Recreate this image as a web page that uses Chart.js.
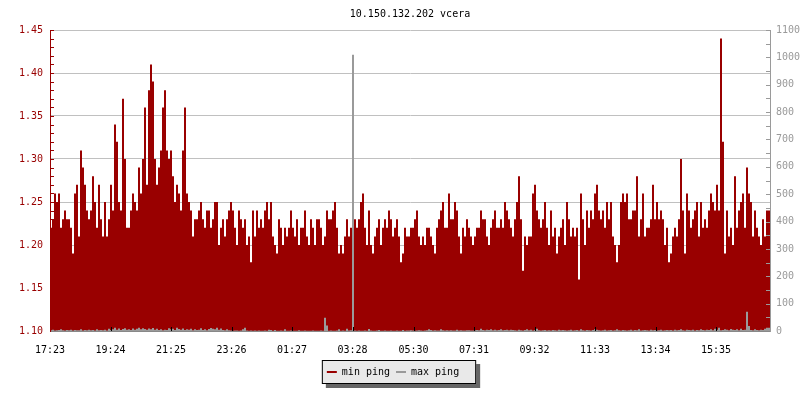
<!DOCTYPE html>
<html>
<head>
<meta charset="utf-8">
<title>10.150.132.202 vcera</title>
<script src="https://cdn.jsdelivr.net/npm/chart.js@4/dist/chart.umd.min.js"></script>
<style>
    html, body { margin: 0; padding: 0; background: #fff; }
</style>
</head>
<body>
<canvas id="pingChart" width="800" height="400"></canvas>
<script>
// time axis labels (every ~2h, starting 17:23)
const tickLabels = ['17:23', '19:24', '21:25', '23:26', '01:27', '03:28', '05:30', '07:31', '09:32', '11:33', '13:34', '15:35'];

// one sample every 4 minutes, 24h -> 360 samples
const stepMinutes = 4;

// min ping (left axis)
const minPing = [
    1.24,1.22,1.23,1.26,1.25,1.26,1.22,1.23,1.24,1.23,
    1.23,1.22,1.19,1.26,1.27,1.21,1.31,1.29,1.27,1.24,
    1.23,1.24,1.28,1.25,1.22,1.27,1.23,1.21,1.25,1.21,
    1.23,1.27,1.24,1.34,1.32,1.25,1.24,1.37,1.30,1.22,
    1.22,1.24,1.26,1.25,1.24,1.29,1.26,1.30,1.36,1.27,
    1.38,1.41,1.39,1.30,1.27,1.29,1.31,1.36,1.38,1.31,
    1.30,1.31,1.28,1.25,1.27,1.26,1.24,1.31,1.36,1.26,
    1.25,1.24,1.21,1.23,1.23,1.24,1.25,1.23,1.22,1.24,
    1.24,1.22,1.23,1.25,1.25,1.20,1.22,1.23,1.21,1.23,
    1.24,1.25,1.24,1.22,1.20,1.24,1.23,1.22,1.23,1.20,
    1.21,1.18,1.24,1.21,1.24,1.22,1.23,1.22,1.24,1.25,
    1.23,1.25,1.21,1.20,1.19,1.23,1.22,1.20,1.22,1.21,
    1.22,1.24,1.22,1.21,1.23,1.20,1.22,1.22,1.24,1.21,
    1.20,1.23,1.22,1.20,1.23,1.23,1.22,1.20,1.21,1.24,
    1.23,1.23,1.24,1.25,1.22,1.19,1.20,1.19,1.21,1.23,
    1.21,1.22,1.26,1.23,1.22,1.23,1.25,1.26,1.22,1.20,
    1.24,1.20,1.19,1.21,1.22,1.23,1.20,1.22,1.23,1.22,
    1.24,1.23,1.21,1.22,1.23,1.21,1.18,1.19,1.22,1.21,
    1.21,1.22,1.22,1.23,1.24,1.21,1.20,1.21,1.20,1.22,
    1.22,1.21,1.20,1.19,1.22,1.23,1.24,1.25,1.22,1.22,
    1.26,1.23,1.23,1.25,1.24,1.21,1.19,1.22,1.21,1.23,
    1.22,1.21,1.20,1.21,1.22,1.22,1.24,1.23,1.23,1.21,
    1.20,1.22,1.23,1.24,1.22,1.22,1.23,1.22,1.25,1.24,
    1.23,1.22,1.21,1.23,1.25,1.28,1.23,1.17,1.21,1.20,
    1.21,1.21,1.26,1.27,1.24,1.23,1.22,1.23,1.25,1.22,
    1.20,1.24,1.21,1.22,1.19,1.21,1.22,1.23,1.20,1.25,
    1.23,1.21,1.22,1.21,1.22,1.16,1.26,1.23,1.20,1.24,
    1.22,1.24,1.23,1.26,1.27,1.24,1.23,1.24,1.22,1.25,
    1.23,1.25,1.21,1.20,1.18,1.20,1.25,1.26,1.25,1.26,
    1.23,1.23,1.24,1.24,1.28,1.21,1.23,1.26,1.21,1.22,
    1.22,1.23,1.27,1.23,1.25,1.23,1.24,1.23,1.20,1.22,
    1.18,1.19,1.21,1.22,1.21,1.23,1.30,1.24,1.19,1.26,
    1.24,1.22,1.23,1.24,1.25,1.21,1.25,1.22,1.23,1.22,
    1.24,1.26,1.25,1.24,1.27,1.24,1.44,1.32,1.19,1.24,
    1.21,1.22,1.20,1.28,1.22,1.24,1.25,1.26,1.22,1.29,
    1.26,1.25,1.21,1.24,1.22,1.21,1.20,1.23,1.21,1.24
];

// max ping (right axis)
const maxPing = [
    4,3,5,2,3,4,6,3,2,4,
    3,5,2,4,3,3,6,2,4,3,
    5,3,4,2,6,3,4,3,5,2,
    8,4,6,12,5,9,4,7,10,5,
    6,4,9,5,8,12,6,10,7,5,
    9,6,11,5,8,4,6,3,5,4,
    10,6,8,4,12,7,5,9,4,6,
    5,8,3,6,4,5,10,4,6,3,
    7,11,8,6,12,5,9,4,3,6,
    3,2,1,2,2,1,2,6,12,2,
    1,2,1,2,1,2,1,1,2,1,
    5,4,1,4,1,1,2,1,6,1,
    1,2,1,1,1,3,1,1,2,1,
    1,1,2,1,1,1,2,1,48,20,
    1,2,1,1,2,6,1,2,1,8,
    2,3,1010,2,1,2,1,1,2,1,
    7,2,1,1,2,4,1,1,2,1,
    1,2,1,1,2,1,1,4,1,2,
    2,3,2,1,2,3,2,1,2,3,
    6,4,2,3,2,2,6,3,2,3,
    2,3,2,2,5,2,3,2,2,3,
    3,2,2,3,4,3,8,4,3,5,
    4,6,3,5,3,4,6,3,4,5,
    3,5,4,3,2,5,3,2,4,6,
    3,5,2,4,8,3,2,3,4,2,
    3,2,4,3,2,5,3,4,3,2,
    3,5,2,3,4,2,6,3,2,4,
    3,2,4,6,5,3,2,3,5,2,
    3,4,2,3,6,3,2,4,3,2,
    3,5,2,4,3,6,2,3,4,3,
    2,5,3,4,2,3,5,2,3,4,
    3,4,2,5,3,4,6,3,2,5,
    4,3,5,2,4,3,6,4,3,5,
    4,6,3,8,5,12,3,4,6,5,
    3,7,5,4,6,3,8,4,5,70,
    18,4,3,6,4,3,5,4,8,12
];

const RED = '#990000';
const GREY = '#9a9a9a';

const startMinute = 17 * 60 + 23;
const tickMinutes = tickLabels.map(t => {
    const [h, m] = t.split(':').map(Number);
    return (h * 60 + m - startMinute + 1440) % 1440;
});

// x in minutes since start; last value repeated at the end so the final step gets its width
function toPoints(values) {
    const pts = values.map((v, i) => ({x: i * stepMinutes, y: v}));
    pts.push({x: values.length * stepMinutes, y: values[values.length - 1]});
    return pts;
}

Chart.defaults.font.family = "'DejaVu Sans Mono', monospace";
Chart.defaults.font.size = 10;
Chart.defaults.color = '#000';

// inward tick marks like the original graph + legend frame with shadow
const rrdLook = {
    id: 'rrdLook',
    afterLayout(chart) {
        chart.titleBlock.left += 10;
        chart.titleBlock.right += 10;
        chart.legend.left -= 7;
        chart.legend.right -= 7;
    },
    beforeDraw(chart) {
        const ctx = chart.ctx;
        const hb = chart.legend.legendHitBoxes;
        if (!hb || !hb.length) return;
        const left = Math.min(...hb.map(h => h.left)) - 5;
        const right = Math.max(...hb.map(h => h.left + h.width)) + 17;
        const top = hb[0].top - 7;
        const bottom = hb[0].top + hb[0].height + 7;
        ctx.save();
        ctx.fillStyle = '#666';
        ctx.fillRect(left + 4, top + 4, right - left, bottom - top);
        ctx.fillStyle = '#e9e9e9';
        ctx.fillRect(left, top, right - left, bottom - top);
        ctx.strokeStyle = '#000';
        ctx.lineWidth = 1;
        ctx.strokeRect(left + 0.5, top + 0.5, right - left - 1, bottom - top - 1);
        ctx.restore();
    },
    afterDatasetsDraw(chart) {
        const {ctx, chartArea: a, scales: {x, y, y1}} = chart;
        ctx.save();
        ctx.lineWidth = 1;

        ctx.strokeStyle = RED;
        ctx.beginPath();
        y.ticks.forEach(t => {
            const py = Math.round(y.getPixelForValue(t.value)) + 0.5;
            ctx.moveTo(a.left, py);
            ctx.lineTo(a.left + 4, py);
        });
        ctx.stroke();

        ctx.strokeStyle = GREY;
        ctx.beginPath();
        y1.ticks.forEach(t => {
            const py = Math.round(y1.getPixelForValue(t.value)) + 0.5;
            ctx.moveTo(a.right, py);
            ctx.lineTo(a.right - 4, py);
        });
        ctx.stroke();

        ctx.strokeStyle = '#000';
        ctx.beginPath();
        x.ticks.forEach(t => {
            const px = Math.round(x.getPixelForValue(t.value)) + 0.5;
            ctx.moveTo(px, a.bottom);
            ctx.lineTo(px, a.bottom - 4);
        });
        ctx.stroke();
        ctx.restore();
    }
};

const CHART = document.getElementById('pingChart');

let pingChart = new Chart(CHART, {
    type: 'line',
    data: {
        datasets: [
            {
                label: 'min ping',
                data: toPoints(minPing),
                yAxisID: 'y',
                order: 1,
                stepped: 'after',
                fill: 'start',
                backgroundColor: RED,
                borderColor: RED,
                borderWidth: 0,
                pointRadius: 0,
            },
            {
                label: 'max ping',
                data: toPoints(maxPing),
                yAxisID: 'y1',
                order: 0,
                stepped: 'after',
                fill: 'start',
                backgroundColor: GREY,
                borderColor: GREY,
                borderWidth: 0,
                pointRadius: 0,
            }
        ]
    },
    options: {
        responsive: false,
        animation: false,
        devicePixelRatio: 1,
        events: [],
        layout: { padding: { top: 0, right: 0, bottom: 13, left: 0 } },
        scales: {
            x: {
                type: 'linear',
                min: 0,
                max: 1440,
                afterBuildTicks: s => { s.ticks = tickMinutes.map(v => ({value: v})); },
                afterFit: s => { s.height = 30; },
                ticks: {
                    autoSkip: false,
                    maxRotation: 0,
                    padding: 5,
                    color: '#000',
                    callback: v => tickLabels[tickMinutes.indexOf(v)]
                },
                grid: { display: false },
                border: { color: '#888', z: 1 }
            },
            y: {
                position: 'left',
                min: 1.10,
                max: 1.45,
                afterFit: s => { s.width = 50; },
                ticks: {
                    stepSize: 0.01,
                    autoSkip: false,
                    padding: 7,
                    color: RED,
                    callback: v => (Math.round(v * 100) % 5 === 0 ? v.toFixed(2) : '')
                },
                grid: {
                    drawTicks: false,
                    color: c => (Math.round(c.tick.value * 100) % 5 === 0 ? '#c0c0c0' : 'rgba(0,0,0,0)')
                },
                border: { color: RED, z: 1 }
            },
            y1: {
                position: 'right',
                min: 0,
                max: 1100,
                afterFit: s => { s.width = 30; },
                ticks: {
                    stepSize: 50,
                    autoSkip: false,
                    padding: 6,
                    color: GREY,
                    callback: v => (v % 100 === 0 ? v : '')
                },
                grid: { drawOnChartArea: false, drawTicks: false },
                border: { color: GREY, z: 1 }
            }
        },
        plugins: {
            title: {
                display: true,
                text: '10.150.132.202 vcera',
                color: '#000',
                font: { size: 10, weight: 'normal' },
                padding: { top: 8, bottom: 10 }
            },
            legend: {
                position: 'bottom',
                labels: {
                    color: '#000',
                    boxWidth: 10,
                    boxHeight: 2,
                    padding: 6,
                    sort: (a, b) => a.datasetIndex - b.datasetIndex
                }
            },
            tooltip: { enabled: false }
        }
    },
    plugins: [rrdLook]
});
</script>
</body>
</html>
